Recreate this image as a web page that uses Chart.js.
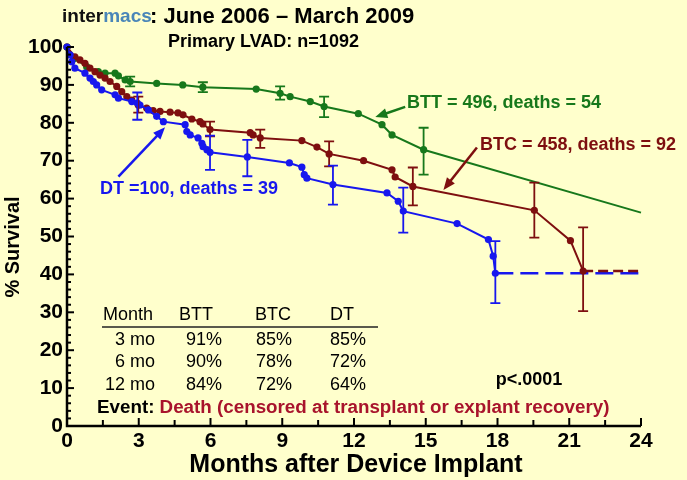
<!DOCTYPE html>
<html lang="en">
<head>
  <meta charset="UTF-8" />
  <title>INTERMACS Primary LVAD survival</title>
  <script src="https://cdn.jsdelivr.net/npm/chart.js@4"></script>
  <style>
    html, body { margin: 0; padding: 0; background: #FFFFCC; }
    #wrap { position: relative; width: 687px; height: 480px; }
  </style>
</head>
<body>
  <div id="wrap"><canvas id="km" width="687" height="480"></canvas></div>

  <script>
    const FONT = "'Liberation Sans', Arial, sans-serif";
    const GREEN = '#17781b', MAROON = '#7e0f0f', BLUE = '#1717ee';

    // BTT curve (months, % survival)
    const bttMonths = [0, 0.33, 0.82, 1.31, 1.59, 2.01, 2.15, 2.43, 2.64, 3.75, 4.84, 5.68, 7.91, 8.91, 9.33, 10.17, 10.75, 12.18, 13.17, 13.59, 14.91, 24];
    const bttSurv   = [100, 97.0, 94.8, 93.5, 93.1, 93.1, 92.4, 91.3, 90.9, 90.4, 90.0, 89.4, 88.9, 87.8, 86.9, 85.6, 84.3, 82.4, 79.5, 76.8, 72.9, 56.3];
    const bttErrMonths = [2.64, 5.68, 8.91, 10.75, 14.91];
    const bttErrLow    = [89.6, 88.1, 86.1, 81.5, 66.3];
    const bttErrHigh   = [92.2, 90.7, 89.6, 86.9, 78.7];

    // BTC curve
    const btcMonths = [0, 0.33, 0.54, 0.75, 0.96, 1.17, 1.38, 1.59, 1.80, 2.08, 2.29, 2.50, 2.71, 2.98, 3.33, 3.60, 3.89, 4.31, 4.64, 4.85, 5.22, 5.56, 5.68, 5.98, 7.66, 7.78, 8.08, 9.82, 10.45, 10.96, 12.4, 13.59, 13.72, 14.46, 19.54, 21.05, 21.58];
    const btcSurv   = [100, 97.4, 96.6, 95.7, 94.4, 93.5, 92.6, 91.8, 90.9, 89.6, 88.2, 86.9, 86.0, 84.7, 83.9, 83.2, 83.0, 82.8, 82.6, 82.1, 81.0, 80.3, 79.7, 78.2, 77.4, 76.8, 76.0, 75.3, 73.6, 71.8, 70.0, 67.6, 65.7, 63.2, 56.9, 48.9, 40.9];
    const btcErrMonths = [2.98, 5.98, 8.08, 10.96, 14.46, 19.54, 21.58];
    const btcErrLow    = [82.7, 76.4, 73.4, 68.5, 58.2, 49.7, 30.3];
    const btcErrHigh   = [86.9, 80.3, 78.2, 75.1, 68.2, 64.2, 52.4];
    const btcTailMonths = [21.58, 24];
    const btcTailSurv   = [40.9, 40.9];

    // DT curve
    const dtMonths = [0, 0.13, 0.20, 0.33, 0.75, 0.96, 1.10, 1.24, 1.45, 2.01, 2.15, 2.71, 2.94, 3.05, 3.40, 3.75, 4.03, 4.94, 5.01, 5.15, 5.48, 5.64, 5.69, 5.85, 5.98, 7.54, 9.30, 9.82, 9.92, 10.03, 11.12, 13.38, 13.85, 14.06, 16.31, 17.62, 17.82, 17.91];
    const dtSurv   = [100, 97.9, 96.1, 94.4, 93.1, 91.8, 90.9, 90.0, 88.7, 87.4, 86.5, 85.6, 85.2, 84.7, 83.4, 81.7, 80.3, 79.5, 77.7, 76.8, 76.0, 74.6, 73.7, 72.9, 72.2, 71.0, 69.4, 68.3, 66.3, 65.4, 63.7, 61.5, 59.3, 56.7, 53.4, 49.2, 44.8, 40.3];
    const dtErrMonths = [2.94, 5.98, 7.54, 11.12, 14.06, 17.91];
    const dtErrLow    = [80.8, 67.6, 65.9, 58.4, 51.0, 32.4];
    const dtErrHigh   = [88.0, 76.6, 75.5, 68.7, 62.9, 48.8];
    const dtTailMonths = [17.91, 24];
    const dtTailSurv   = [40.3, 40.3];

    // survival table
    const tableHead = ['Month', 'BTT', 'BTC', 'DT'];
    const tableRows = ['3 mo', '6 mo', '12 mo'];
    const tableBTT  = ['91%', '90%', '84%'];
    const tableBTC  = ['85%', '78%', '72%'];
    const tableDT   = ['85%', '72%', '64%'];

    function pts(xs, ys) { return xs.map((x, i) => ({ x, y: ys[i] })); }

    const errorBars = [
      { color: GREEN, xs: bttErrMonths, lo: bttErrLow, hi: bttErrHigh },
      { color: MAROON, xs: btcErrMonths, lo: btcErrLow, hi: btcErrHigh },
      { color: BLUE, xs: dtErrMonths, lo: dtErrLow, hi: dtErrHigh }
    ];

    // arrows in data units
    const arrows = [
      { color: GREEN, from: [14.14, 84.2], to: [12.89, 81.5] },
      { color: MAROON, from: [17.14, 73.5], to: [15.74, 62.3] },
      { color: BLUE, from: [2.15, 65.8], to: [4.10, 78.8] }
    ];

    function drawArrow(ctx, x1, y1, x2, y2, color) {
      const ang = Math.atan2(y2 - y1, x2 - x1), hl = 12, hw = 5;
      ctx.strokeStyle = color; ctx.fillStyle = color; ctx.lineWidth = 2.5;
      ctx.beginPath();
      ctx.moveTo(x1, y1);
      ctx.lineTo(x2 - Math.cos(ang) * hl * 0.8, y2 - Math.sin(ang) * hl * 0.8);
      ctx.stroke();
      ctx.beginPath();
      ctx.moveTo(x2, y2);
      ctx.lineTo(x2 - Math.cos(ang) * hl + Math.sin(ang) * hw, y2 - Math.sin(ang) * hl - Math.cos(ang) * hw);
      ctx.lineTo(x2 - Math.cos(ang) * hl - Math.sin(ang) * hw, y2 - Math.sin(ang) * hl + Math.cos(ang) * hw);
      ctx.closePath();
      ctx.fill();
    }

    const overlay = {
      id: 'overlay',
      beforeDraw(chart) {
        const ctx = chart.ctx;
        ctx.save();
        ctx.fillStyle = '#FFFFCC';
        ctx.fillRect(0, 0, chart.width, chart.height);
        ctx.restore();
      },
      afterDatasetsDraw(chart) {
        const { ctx, scales: { x, y }, chartArea: a } = chart;
        ctx.save();
        // error bars
        errorBars.forEach(eb => {
          ctx.strokeStyle = eb.color; ctx.lineWidth = 1.8;
          eb.xs.forEach((m, i) => {
            const px = x.getPixelForValue(m);
            const p1 = y.getPixelForValue(eb.lo[i]), p2 = y.getPixelForValue(eb.hi[i]);
            ctx.beginPath();
            ctx.moveTo(px, p1); ctx.lineTo(px, p2);
            ctx.moveTo(px - 5, p1); ctx.lineTo(px + 5, p1);
            ctx.moveTo(px - 5, p2); ctx.lineTo(px + 5, p2);
            ctx.stroke();
          });
        });
        // axes with inward ticks
        ctx.strokeStyle = '#000'; ctx.lineWidth = 2.5;
        ctx.beginPath();
        ctx.moveTo(a.left, a.top); ctx.lineTo(a.left, a.bottom); ctx.lineTo(a.right, a.bottom);
        ctx.stroke();
        ctx.lineWidth = 2;
        for (let v = 0; v <= 100; v += 2) {
          const py = y.getPixelForValue(v), len = v % 10 === 0 ? 7 : 4;
          ctx.beginPath(); ctx.moveTo(a.left, py); ctx.lineTo(a.left + len, py); ctx.stroke();
        }
        for (let m = 0; m <= 24; m += 1.5) {
          const px = x.getPixelForValue(m), len = m % 3 === 0 ? 8 : 6;
          ctx.beginPath(); ctx.moveTo(px, a.bottom); ctx.lineTo(px, a.bottom - len); ctx.stroke();
        }
        // arrows
        arrows.forEach(ar => drawArrow(ctx,
          x.getPixelForValue(ar.from[0]), y.getPixelForValue(ar.from[1]),
          x.getPixelForValue(ar.to[0]), y.getPixelForValue(ar.to[1]), ar.color));
        ctx.restore();
      },
      afterDraw(chart) {
        const ctx = chart.ctx;
        ctx.save();
        ctx.textBaseline = 'middle';

        // title
        ctx.font = 'bold 19px ' + FONT;
        ctx.fillStyle = '#111';
        ctx.textAlign = 'left';
        ctx.fillText('inter', 62, 17);
        const w = ctx.measureText('inter').width;
        ctx.fillStyle = '#4a86b8';
        ctx.fillText('macs', 62 + w, 17);
        ctx.fillStyle = '#000';
        ctx.font = 'bold 22px ' + FONT;
        ctx.fillText(': June 2006 \u2013 March 2009', 150, 17);
        ctx.font = 'bold 18px ' + FONT;
        ctx.fillText('Primary LVAD: n=1092', 168, 42);

        // axis titles
        ctx.font = 'bold 25px ' + FONT;
        ctx.textAlign = 'center';
        ctx.fillText('Months after Device Implant', 356, 465);
        ctx.save();
        ctx.translate(13, 247);
        ctx.rotate(-Math.PI / 2);
        ctx.font = 'bold 20px ' + FONT;
        ctx.fillText('% Survival', 0, 0);
        ctx.restore();

        // series labels
        ctx.font = 'bold 18px ' + FONT;
        ctx.textAlign = 'left';
        ctx.fillStyle = GREEN;  ctx.fillText('BTT = 496, deaths = 54', 407, 103);
        ctx.fillStyle = MAROON; ctx.fillText('BTC = 458, deaths = 92', 480, 145);
        ctx.fillStyle = BLUE;   ctx.fillText('DT =100, deaths = 39', 100, 189);

        // table
        ctx.fillStyle = '#000';
        ctx.font = '18px ' + FONT;
        ctx.textAlign = 'left';
        ctx.fillText(tableHead[0], 103, 315);
        ctx.fillText(tableHead[1], 179, 315);
        ctx.fillText(tableHead[2], 255, 315);
        ctx.fillText(tableHead[3], 330, 315);
        ctx.strokeStyle = '#222'; ctx.lineWidth = 1.5;
        ctx.beginPath(); ctx.moveTo(102, 327); ctx.lineTo(378, 327); ctx.stroke();
        const rowY = [340, 362, 385];
        ctx.textAlign = 'right';
        tableRows.forEach((r, i) => {
          ctx.fillText(r, 155, rowY[i]);
          ctx.fillText(tableBTT[i], 222, rowY[i]);
          ctx.fillText(tableBTC[i], 292, rowY[i]);
          ctx.fillText(tableDT[i], 366, rowY[i]);
        });

        // p value and event note
        ctx.font = 'bold 18px ' + FONT;
        ctx.textAlign = 'center';
        ctx.fillText('p<.0001', 529, 380);
        ctx.font = 'bold 18.8px ' + FONT;
        ctx.textAlign = 'left';
        ctx.fillText('Event: ', 97, 408);
        const ew = ctx.measureText('Event: ').width;
        ctx.fillStyle = '#a8142c';
        ctx.fillText('Death (censored at transplant or explant recovery)', 97 + ew, 408);
        ctx.restore();
      }
    };

    const lineSet = (label, data, color, order) => ({
      label, data, order,
      borderColor: color, backgroundColor: color,
      borderWidth: 2, pointRadius: c => (c.raw && c.raw.x >= 24 ? 0 : 3.6),
      pointBorderWidth: 0, pointBackgroundColor: color,
      tension: 0, clip: false
    });

    new Chart(document.getElementById('km').getContext('2d'), {
      type: 'line',
      data: {
        datasets: [
          lineSet('DT', pts(dtMonths, dtSurv), BLUE, 0),
          lineSet('BTC', pts(btcMonths, btcSurv), MAROON, 1),
          lineSet('BTT', pts(bttMonths, bttSurv), GREEN, 2),
          { label: 'DT tail', data: pts(dtTailMonths, dtTailSurv), borderColor: BLUE, borderWidth: 2.5,
            borderDash: [18, 7], pointRadius: 0, order: 3, clip: false },
          { label: 'BTC tail', data: pts(btcTailMonths, btcTailSurv), borderColor: MAROON, borderWidth: 2.5,
            borderDash: [10, 5], pointRadius: 0, order: 2, clip: false }
        ]
      },
      options: {
        responsive: false,
        animation: false,
        devicePixelRatio: 1,
        layout: { padding: { top: 47, right: 46, bottom: 0, left: 0 } },
        plugins: { legend: { display: false }, tooltip: { enabled: false } },
        scales: {
          x: {
            type: 'linear', min: 0, max: 24,
            grid: { display: false, drawTicks: false }, border: { display: false },
            ticks: { stepSize: 3, color: '#000', padding: 3, font: { family: FONT, size: 21, weight: 'bold' } },
            afterFit: s => { s.height = 54; }
          },
          y: {
            min: 0, max: 100,
            grid: { display: false, drawTicks: false }, border: { display: false },
            ticks: { stepSize: 10, color: '#000', padding: 4, font: { family: FONT, size: 21, weight: 'bold' } },
            afterFit: s => { s.width = 67; }
          }
        }
      },
      plugins: [overlay]
    });
  </script>
</body>
</html>
